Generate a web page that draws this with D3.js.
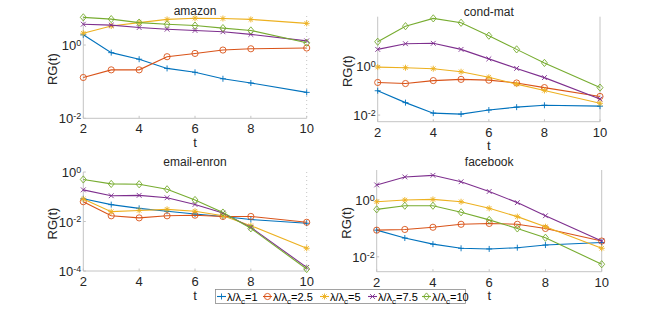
<!DOCTYPE html>
<html>
<head>
<meta charset="utf-8">
<script src="https://d3js.org/d3.v7.min.js"></script>
<style>
  html, body { margin: 0; padding: 0; background: #fff; }
  svg { display: block; font-family: "Liberation Sans", Arial, sans-serif; }
</style>
</head>
<body>
<svg id="chart" width="667" height="317"></svg>
<script>
// time steps and legend values
const tValues = [2, 3, 4, 5, 6, 7, 8, 10];
const ratioLabels = ["1", "2.5", "5", "7.5", "10"];

// RG(t) per data set, one row per lambda/lambda_c
const amazonRG = [
  [1.9, 0.62, 0.41, 0.23, 0.18, 0.12, 0.092, 0.051],
  [0.13, 0.21, 0.21, 0.48, 0.59, 0.73, 0.79, 0.83],
  [2.1, 3.3, 4.1, 5.0, 5.4, 5.3, 5.0, 3.9],
  [3.7, 3.5, 3.0, 2.7, 2.5, 2.3, 1.95, 1.3],
  [5.7, 5.1, 4.1, 3.7, 3.4, 2.9, 2.5, 1.15]
];
const condMatRG = [
  [0.097, 0.032, 0.012, 0.011, 0.016, 0.021, 0.025, 0.023],
  [0.21, 0.19, 0.25, 0.28, 0.26, 0.20, 0.13, 0.057],
  [0.88, 0.83, 0.76, 0.57, 0.34, 0.18, 0.10, 0.030],
  [4.6, 7.8, 8.1, 4.6, 1.9, 0.78, 0.33, 0.045],
  [9.4, 40, 83, 55, 16.5, 4.6, 1.3, 0.13]
];
const enronRG = [
  [0.083, 0.048, 0.034, 0.026, 0.020, 0.016, 0.012, 0.0085],
  [0.063, 0.017, 0.014, 0.017, 0.018, 0.016, 0.016, 0.0093],
  [0.081, 0.025, 0.028, 0.031, 0.026, 0.017, 0.0068, 0.00083],
  [0.19, 0.11, 0.114, 0.091, 0.049, 0.022, 0.0058, 0.00014],
  [0.50, 0.33, 0.32, 0.20, 0.074, 0.023, 0.0053, 0.00012]
];
const facebookRG = [
  [0.087, 0.046, 0.028, 0.020, 0.019, 0.021, 0.026, 0.032],
  [0.087, 0.092, 0.11, 0.14, 0.15, 0.14, 0.10, 0.036],
  [0.87, 1.0, 1.05, 0.87, 0.51, 0.26, 0.115, 0.020],
  [3.4, 6.5, 7.4, 4.4, 2.0, 0.81, 0.28, 0.036],
  [0.47, 0.63, 0.63, 0.37, 0.20, 0.10, 0.047, 0.0055]
];

// axis limits and ticks
const xTicks = [2, 4, 6, 8, 10];
const yLimits = [[0.01, 6.2], [0.0054, 97], [0.0001, 1], [0.003, 11.4]];
const yTickExps = [[-2, 0], [-2, 0], [-4, -2, 0], [-2, 0]];

const colors = ["#0072BD", "#D95319", "#EDB120", "#7E2F8E", "#77AC30"];
const markers = ["plus", "circle", "star", "cross", "diamond"];

const panels = [
  { title: "amazon", data: amazonRG, left: 83.3, right: 306.7, top: 16, bottom: 118.3, titleGap: 1 },
  { title: "cond-mat", data: condMatRG, left: 377.7, right: 600, top: 16.7, bottom: 121.7, titleGap: 1 },
  { title: "email-enron", data: enronRG, left: 83.3, right: 306.7, top: 172, bottom: 271, titleGap: 6 },
  { title: "facebook", data: facebookRG, left: 376.7, right: 601.7, top: 170, bottom: 271.7, titleGap: 4.5 }
];

const axisGrey = "#c4c4c4";
const textColor = "#262626";

const svg = d3.select("#chart");

function markerPath(kind) {
  switch (kind) {
    case "plus": return "M-3,0H3M0,-3V3";
    case "cross": return "M-2.4,-2.4L2.4,2.4M-2.4,2.4L2.4,-2.4";
    case "star": return "M-3,0H3M0,-3V3M-2.2,-2.2L2.2,2.2M-2.2,2.2L2.2,-2.2";
    case "diamond": return "M0,-3.6L3,0L0,3.6L-3,0Z";
    default: return d3.symbol(d3.symbolCircle, 30)();
  }
}

function powerLabel(sel, e) {
  sel.text(null);
  sel.append("tspan").text("10");
  sel.append("tspan").attr("dy", "-0.45em").attr("font-size", "9px").text(e);
}

panels.forEach((p, i) => {
  const x = d3.scaleLinear().domain([2, 10]).range([p.left, p.right]);
  const y = d3.scaleLog().domain(yLimits[i]).range([p.bottom, p.top]);
  const g = svg.append("g");

  // axis lines
  g.append("line").attr("x1", p.left).attr("x2", p.right)
    .attr("y1", p.bottom).attr("y2", p.bottom).attr("stroke", axisGrey);
  g.append("line").attr("x1", p.left).attr("x2", p.left)
    .attr("y1", p.top).attr("y2", p.bottom).attr("stroke", axisGrey);
  g.append("line").attr("x1", p.right).attr("x2", p.right)
    .attr("y1", p.top).attr("y2", p.bottom).attr("stroke", axisGrey)
    .attr("stroke-dasharray", i % 2 === 0 ? "1,3" : null);

  // x ticks
  xTicks.forEach(t => {
    g.append("line").attr("x1", x(t)).attr("x2", x(t))
      .attr("y1", p.bottom).attr("y2", p.bottom - 2.5).attr("stroke", axisGrey);
    g.append("text").attr("x", x(t)).attr("y", p.bottom + 15)
      .attr("text-anchor", "middle").attr("font-size", "13px").attr("fill", textColor)
      .text(t);
  });

  // y ticks
  yTickExps[i].forEach(e => {
    const yy = y(Math.pow(10, e));
    g.append("line").attr("x1", p.left).attr("x2", p.left + 2.5)
      .attr("y1", yy).attr("y2", yy).attr("stroke", axisGrey);
    g.append("text").attr("x", p.left - 2).attr("y", yy + 5)
      .attr("text-anchor", "end").attr("font-size", "13px").attr("fill", textColor)
      .call(powerLabel, e);
  });

  // labels and title
  g.append("text").attr("x", (p.left + p.right) / 2).attr("y", p.bottom + 28.5)
    .attr("text-anchor", "middle").attr("font-size", "13px").attr("fill", textColor)
    .text("t");
  g.append("text")
    .attr("transform", "translate(" + (p.left - 26) + "," + ((p.top + p.bottom) / 2 + 2) + ") rotate(-90)")
    .attr("text-anchor", "middle").attr("font-size", "13px").attr("fill", textColor)
    .text("RG(t)");
  g.append("text").attr("x", (p.left + p.right) / 2).attr("y", p.top - p.titleGap)
    .attr("text-anchor", "middle").attr("font-size", "12px").attr("fill", textColor)
    .text(p.title);

  // series
  const line = d3.line().x((d, k) => x(tValues[k])).y(d => y(d));
  p.data.forEach((vals, s) => {
    g.append("path").attr("d", line(vals))
      .attr("fill", "none").attr("stroke", colors[s]).attr("stroke-width", 1.1);
    g.selectAll(null).data(vals).enter().append("path")
      .attr("transform", (d, k) => "translate(" + x(tValues[k]) + "," + y(d) + ")")
      .attr("d", markerPath(markers[s]))
      .attr("fill", "none").attr("stroke", colors[s]).attr("stroke-width", 0.9);
  });
});

// legend
const legend = svg.append("g");
legend.append("rect").attr("x", 215.5).attr("y", 289.5).attr("width", 250).attr("height", 14)
  .attr("fill", "#fff").attr("stroke", "#8c8c8c").attr("stroke-width", 0.8);
const legendX = [217, 263, 320, 368, 422];
ratioLabels.forEach((r, s) => {
  const lx = legendX[s];
  const ly = 296.5;
  legend.append("line").attr("x1", lx).attr("x2", lx + 9).attr("y1", ly).attr("y2", ly)
    .attr("stroke", colors[s]).attr("stroke-width", 1.1);
  legend.append("path").attr("transform", "translate(" + (lx + 4.5) + "," + ly + ")")
    .attr("d", markerPath(markers[s])).attr("fill", "none")
    .attr("stroke", colors[s]).attr("stroke-width", 0.9);
  const txt = legend.append("text").attr("x", lx + 10).attr("y", ly + 4)
    .attr("font-size", "11px").attr("fill", "#000");
  txt.append("tspan").text("\u03bb/\u03bb");
  txt.append("tspan").attr("dy", "3").attr("font-size", "8px").text("c");
  txt.append("tspan").attr("dy", "-3").text("=" + r);
});
</script>
</body>
</html>
